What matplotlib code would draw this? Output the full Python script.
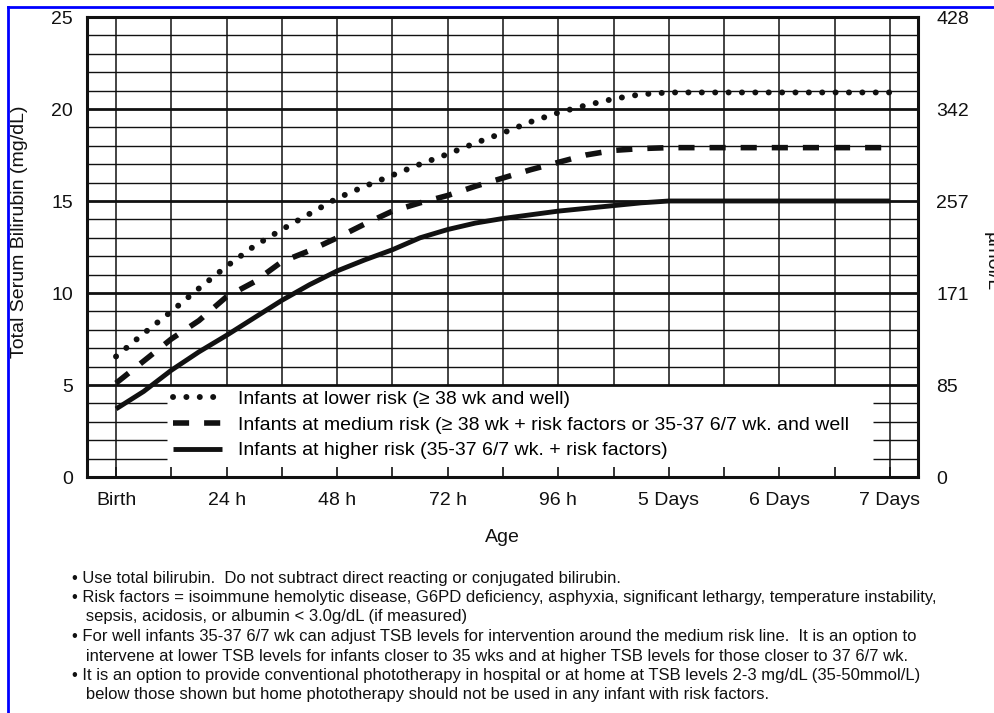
import matplotlib
matplotlib.use("Agg")
import matplotlib.pyplot as plt
from matplotlib.lines import Line2D

plt.rcParams['font.family'] = ['Liberation Sans', 'DejaVu Sans']

# age in hours after birth
hours = [0, 6, 12, 18, 24, 30, 36, 42, 48, 54, 60, 66, 72, 78, 84, 90, 96,
         102, 108, 114, 120, 132, 144, 156, 168]

# total serum bilirubin thresholds (mg/dL)
lower_risk = [6.55, 7.8, 9.0, 10.25, 11.45, 12.55, 13.45, 14.3, 15.15, 15.8, 16.4,
              17.0, 17.55, 18.15, 18.7, 19.3, 19.8, 20.2, 20.55, 20.8, 20.9,
              20.9, 20.9, 20.9, 20.9]
medium_risk = [5.1, 6.3, 7.5, 8.5, 9.8, 10.6, 11.7, 12.3, 13.0, 13.75, 14.45,
               14.9, 15.3, 15.8, 16.25, 16.7, 17.1, 17.5, 17.75, 17.85, 17.9,
               17.9, 17.9, 17.9, 17.9]
higher_risk = [3.7, 4.65, 5.8, 6.8, 7.7, 8.65, 9.6, 10.45, 11.2, 11.8, 12.35,
               13.0, 13.45, 13.8, 14.05, 14.25, 14.45, 14.6, 14.75, 14.9, 15.0,
               15.0, 15.0, 15.0, 15.0]

x_ticks = [0, 24, 48, 72, 96, 120, 144, 168]
x_labels = ["Birth", "24 h", "48 h", "72 h", "96 h", "5 Days", "6 Days", "7 Days"]
y_ticks = [0, 5, 10, 15, 20, 25]
umol_labels = ["0", "85", "171", "257", "342", "428"]

legend_labels = [
    "Infants at lower risk (\u2265 38 wk and well)",
    "Infants at medium risk (\u2265 38 wk + risk factors or 35-37 6/7 wk. and well",
    "Infants at higher risk (35-37 6/7 wk. + risk factors)",
]

notes = [
    "\u2022 Use total bilirubin.  Do not subtract direct reacting or conjugated bilirubin.",
    "\u2022 Risk factors = isoimmune hemolytic disease, G6PD deficiency, asphyxia, significant lethargy, temperature instability,",
    "   sepsis, acidosis, or albumin < 3.0g/dL (if measured)",
    "\u2022 For well infants 35-37 6/7 wk can adjust TSB levels for intervention around the medium risk line.  It is an option to",
    "   intervene at lower TSB levels for infants closer to 35 wks and at higher TSB levels for those closer to 37 6/7 wk.",
    "\u2022 It is an option to provide conventional phototherapy in hospital or at home at TSB levels 2-3 mg/dL (35-50mmol/L)",
    "   below those shown but home phototherapy should not be used in any infant with risk factors.",
]

W, H = 995, 713
fig = plt.figure(figsize=(W / 100, H / 100), dpi=100)
ax = fig.add_axes([87 / W, 1 - 477 / H, (918 - 87) / W, (477 - 17) / H])
xmin, xmax = -6.3, 174.1
ax.set_xlim(xmin, xmax)
ax.set_ylim(0, 25)

ink = "#111111"

# horizontal grid; the legend area (below 5) keeps only short stubs at the edges
for v in range(1, 25):
    lw = 2.0 if v % 5 == 0 else 1.0
    if v < 5:
        ax.hlines(v, xmin, 11.0, color=ink, lw=lw, zorder=1)
        ax.hlines(v, 164.3, xmax, color=ink, lw=lw, zorder=1)
    else:
        ax.hlines(v, xmin, xmax, color=ink, lw=lw, zorder=1)

# vertical grid every 12 h; inner ones stop at the legend area
for h in range(0, 169, 12):
    bottom = 0 if h in (0, 168) else 5
    ax.vlines(h, bottom, 25, color=ink, lw=1.1, zorder=1)

ax.plot(hours, lower_risk, color=ink, lw=4.3, linestyle=(0, (0.01, 2.23)),
        dash_capstyle="round", label=legend_labels[0], zorder=3)
ax.plot(hours, medium_risk, color=ink, lw=4.0, linestyle=(0, (2.9, 2.7)),
        dash_capstyle="butt", label=legend_labels[1], zorder=3)
ax.plot(hours, higher_risk, color=ink, lw=3.5, solid_capstyle="butt",
        label=legend_labels[2], zorder=3)

for s in ax.spines.values():
    s.set_linewidth(2.2)
    s.set_color(ink)

ax.set_xticks(x_ticks)
ax.set_xticklabels(x_labels, fontsize=14)
ax.set_xticks(range(12, 168, 24), minor=True)
ax.tick_params(axis="x", which="both", direction="in", length=7, width=1.2,
               pad=11, colors=ink)
ax.set_yticks(y_ticks)
ax.set_yticklabels([str(v) for v in y_ticks], fontsize=14)
ax.tick_params(axis="y", length=0, pad=10, colors=ink)

ax2 = ax.twinx()
ax2.set_ylim(0, 25)
ax2.set_yticks(y_ticks)
ax2.set_yticklabels(umol_labels, fontsize=14)
ax2.tick_params(axis="y", length=0, pad=13, colors=ink)
for s in ax2.spines.values():
    s.set_visible(False)

ax.legend(loc="upper left", bbox_to_anchor=(12.4, 4.72), bbox_transform=ax.transData,
          frameon=False, fontsize=14, handlelength=2.52, handletextpad=0.82,
          labelspacing=0.42, borderpad=0, borderaxespad=0)

fig.text(20 / W, 1 - 232 / H, "Total Serum Bilirubin (mg/dL)", rotation=90,
         ha="center", va="center", fontsize=14, color=ink)
fig.text(502 / W, 1 - 538 / H, "Age", ha="center", va="center", fontsize=14, color=ink)
fig.text(983 / W, 1 - 262 / H, "\u00b5mol/L", rotation=270, ha="left", va="center",
         fontsize=14, color=ink)

for i, line in enumerate(notes):
    fig.text(72 / W, 1 - (578 + 19.5 * i) / H, line, ha="left", va="center",
             fontsize=12, color=ink)

# blue frame of the original image
fig.add_artist(Line2D([8 / W, 8 / W], [0, 1 - 7 / H], color="#0000ff", lw=2))
fig.add_artist(Line2D([8 / W, 1], [1 - 7 / H, 1 - 7 / H], color="#0000ff", lw=2))

fig.savefig("out.png", dpi=100)
